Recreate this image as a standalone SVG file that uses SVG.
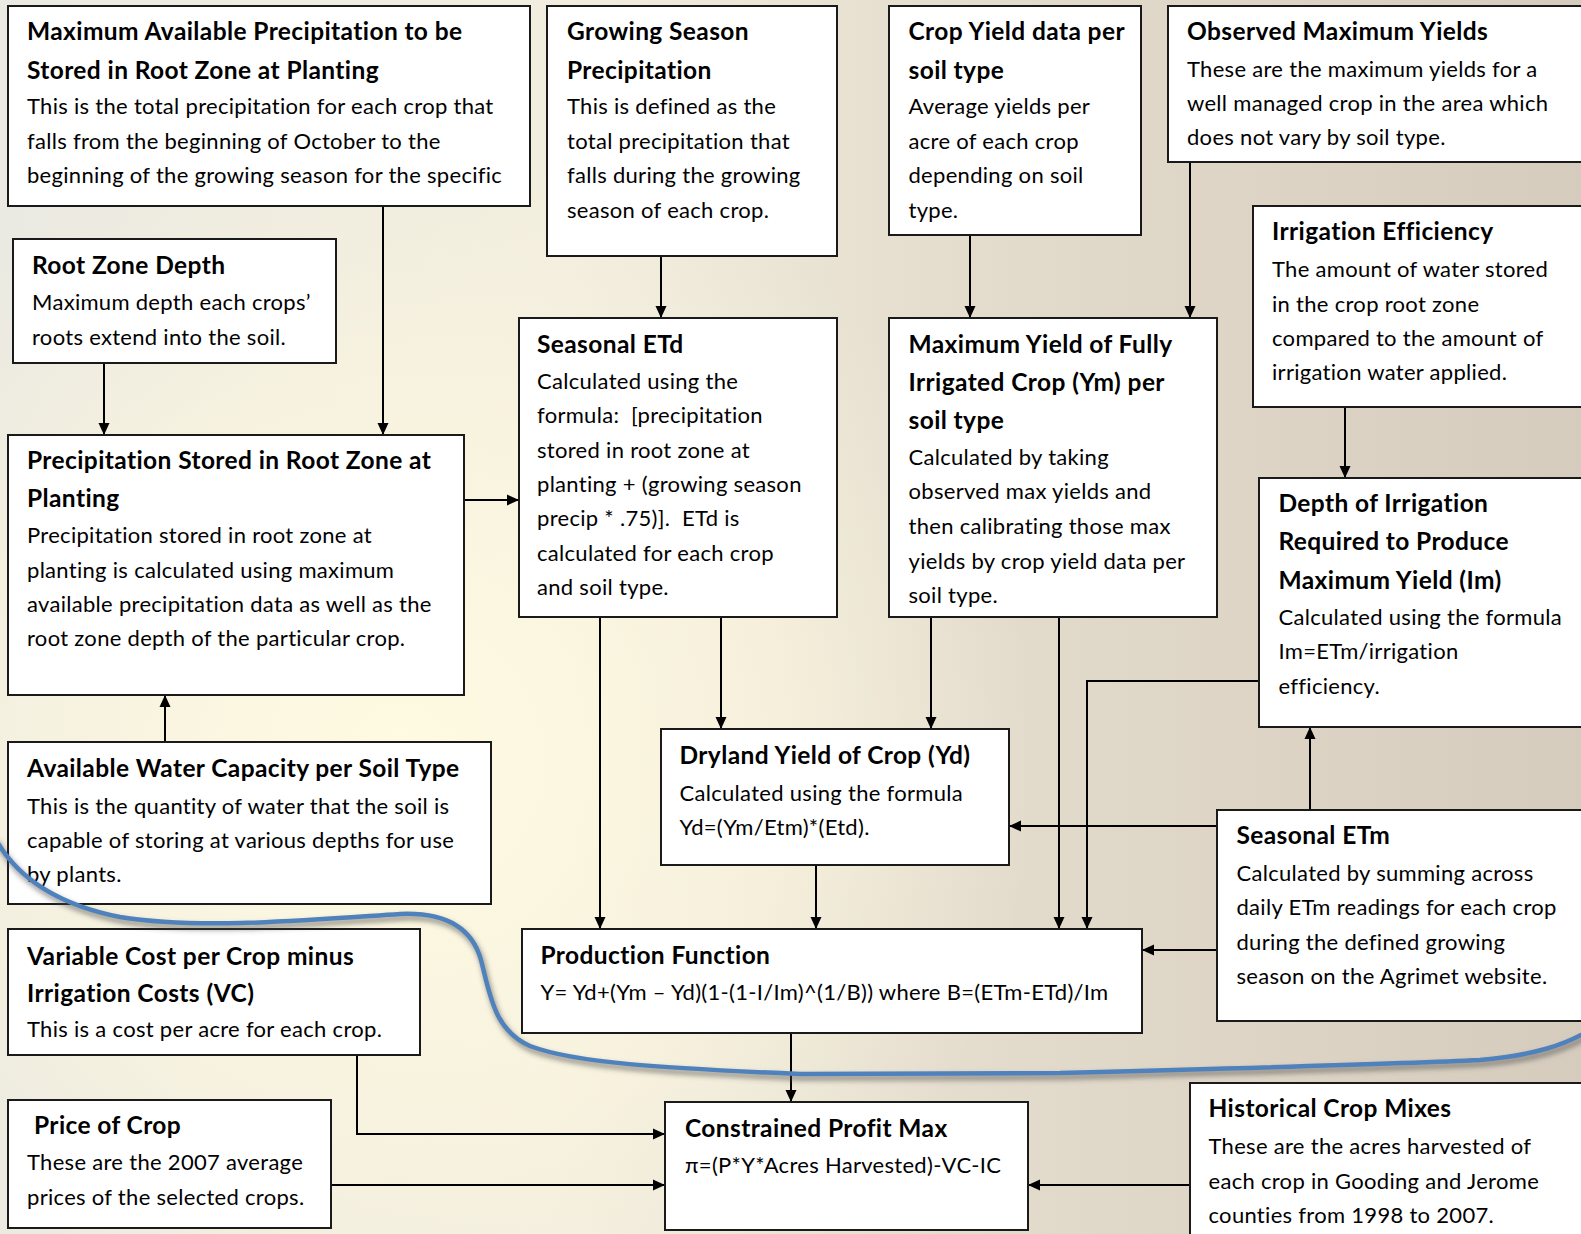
<svg xmlns="http://www.w3.org/2000/svg" width="1581" height="1234" viewBox="0 0 1581 1234">
<defs>
<linearGradient id="bgLin" x1="0" y1="0" x2="1" y2="0">
<stop offset="0" stop-color="#ebeae2"/>
<stop offset="0.35" stop-color="#f2eedf"/>
<stop offset="0.65" stop-color="#e2dacb"/>
<stop offset="1" stop-color="#d6ccbe"/>
</linearGradient>
<radialGradient id="bgGlow" gradientUnits="userSpaceOnUse" cx="400" cy="760" r="640">
<stop offset="0" stop-color="#fffbe2" stop-opacity="1"/>
<stop offset="0.6" stop-color="#fcf6df" stop-opacity="0.6"/>
<stop offset="1" stop-color="#f6f0dc" stop-opacity="0"/>
</radialGradient>
<marker id="ah" markerUnits="userSpaceOnUse" markerWidth="14" markerHeight="14" viewBox="0 0 14 14" refX="13" refY="7" orient="auto">
<path d="M1,1.5 L13,7 L1,12.5 Z" fill="#000"/>
</marker>
<filter id="shadow" x="-5%" y="-50%" width="110%" height="200%">
<feGaussianBlur stdDeviation="2.5"/>
</filter>
<style>
.box{fill:#fff;stroke:#1a1a1a;stroke-width:2}
.t{font-family:Lato,"Open Sans",sans-serif;font-weight:bold;font-size:24.5px;letter-spacing:0.4px;fill:#000;white-space:pre}
.b{font-family:Lato,"Open Sans",sans-serif;font-size:22px;letter-spacing:0.3px;fill:#000;white-space:pre}
.c{fill:none;stroke:#000;stroke-width:2;marker-end:url(#ah)}
</style>
</defs>
<rect x="0" y="0" width="1581" height="1234" fill="url(#bgLin)"/>
<rect x="0" y="0" width="1581" height="1234" fill="url(#bgGlow)"/>

<g id="connectors">
<path class="c" d="M383,206 V435"/>
<path class="c" d="M104,363 V435"/>
<path class="c" d="M464,500 H519"/>
<path class="c" d="M661,256 V318"/>
<path class="c" d="M970,235 V318"/>
<path class="c" d="M1190,162 V318"/>
<path class="c" d="M1345,407 V478"/>
<path class="c" d="M165,742 V695"/>
<path class="c" d="M600,617 V929"/>
<path class="c" d="M721,617 V729"/>
<path class="c" d="M931,617 V729"/>
<path class="c" d="M816,865 V929"/>
<path class="c" d="M1059,617 V929"/>
<path class="c" d="M1259,681 H1087 V929"/>
<path class="c" d="M1217,826 H1009"/>
<path class="c" d="M1310,810 V727"/>
<path class="c" d="M1217,950 H1142"/>
<path class="c" d="M791,1033 V1102"/>
<path class="c" d="M357,1055 V1134 H665"/>
<path class="c" d="M331,1185 H665"/>
<path class="c" d="M1190,1185 H1028"/>
</g>

<g id="n1">
<rect class="box" x="8" y="6" width="522" height="200"/>
<text class="t" x="27" y="40">Maximum Available Precipitation to be</text>
<text class="t" x="27" y="79">Stored in Root Zone at Planting</text>
<text class="b" x="27" y="114">This is the total precipitation for each crop that</text>
<text class="b" x="27" y="148.5">falls from the beginning of October to the</text>
<text class="b" x="27" y="183">beginning of the growing season for the specific</text>
</g>
<g id="n2">
<rect class="box" x="547" y="6" width="290" height="250"/>
<text class="t" x="567" y="40">Growing Season</text>
<text class="t" x="567" y="79">Precipitation</text>
<text class="b" x="567" y="114">This is defined as the</text>
<text class="b" x="567" y="148.5">total precipitation that</text>
<text class="b" x="567" y="183">falls during the growing</text>
<text class="b" x="567" y="217.5">season of each crop.</text>
</g>
<g id="n3">
<rect class="box" x="889" y="6" width="252" height="229"/>
<text class="t" x="908.5" y="40">Crop Yield data per</text>
<text class="t" x="908.5" y="79">soil type</text>
<text class="b" x="908.5" y="114">Average yields per</text>
<text class="b" x="908.5" y="148.5">acre of each crop</text>
<text class="b" x="908.5" y="183">depending on soil</text>
<text class="b" x="908.5" y="217.5">type.</text>
</g>
<g id="n4">
<rect class="box" x="1168" y="6" width="430" height="156"/>
<text class="t" x="1187" y="40">Observed Maximum Yields</text>
<text class="b" x="1187" y="76.5">These are the maximum yields for a</text>
<text class="b" x="1187" y="111">well managed crop in the area which</text>
<text class="b" x="1187" y="145">does not vary by soil type.</text>
</g>
<g id="n5">
<rect class="box" x="1253" y="206" width="345" height="201"/>
<text class="t" x="1272" y="240">Irrigation Efficiency</text>
<text class="b" x="1272" y="277">The amount of water stored</text>
<text class="b" x="1272" y="311.5">in the crop root zone</text>
<text class="b" x="1272" y="346">compared to the amount of</text>
<text class="b" x="1272" y="380">irrigation water applied.</text>
</g>
<g id="n6">
<rect class="box" x="13" y="239" width="323" height="124"/>
<text class="t" x="32" y="274">Root Zone Depth</text>
<text class="b" x="32" y="309.5">Maximum depth each crops’</text>
<text class="b" x="32" y="344.5">roots extend into the soil.</text>
</g>
<g id="n7">
<rect class="box" x="8" y="435" width="456" height="260"/>
<text class="t" x="27" y="469">Precipitation Stored in Root Zone at</text>
<text class="t" x="27" y="507">Planting</text>
<text class="b" x="27" y="543">Precipitation stored in root zone at</text>
<text class="b" x="27" y="577.5">planting is calculated using maximum</text>
<text class="b" x="27" y="612">available precipitation data as well as the</text>
<text class="b" x="27" y="646">root zone depth of the particular crop.</text>
</g>
<g id="n8">
<rect class="box" x="519" y="318" width="318" height="299"/>
<text class="t" x="537" y="353">Seasonal ETd</text>
<text class="b" x="537" y="389">Calculated using the</text>
<text class="b" x="537" y="423">formula:  [precipitation</text>
<text class="b" x="537" y="458">stored in root zone at</text>
<text class="b" x="537" y="492">planting + (growing season</text>
<text class="b" x="537" y="526">precip * .75)].  ETd is</text>
<text class="b" x="537" y="560.5">calculated for each crop</text>
<text class="b" x="537" y="595">and soil type.</text>
</g>
<g id="n9">
<rect class="box" x="889" y="318" width="328" height="299"/>
<text class="t" x="908.5" y="353">Maximum Yield of Fully</text>
<text class="t" x="908.5" y="391">Irrigated Crop (Ym) per</text>
<text class="t" x="908.5" y="429">soil type</text>
<text class="b" x="908.5" y="465">Calculated by taking</text>
<text class="b" x="908.5" y="499">observed max yields and</text>
<text class="b" x="908.5" y="533.5">then calibrating those max</text>
<text class="b" x="908.5" y="568.5">yields by crop yield data per</text>
<text class="b" x="908.5" y="603">soil type.</text>
</g>
<g id="n10">
<rect class="box" x="1259" y="478" width="339" height="249"/>
<text class="t" x="1278.5" y="512">Depth of Irrigation</text>
<text class="t" x="1278.5" y="550">Required to Produce</text>
<text class="t" x="1278.5" y="589">Maximum Yield (Im)</text>
<text class="b" x="1278.5" y="625">Calculated using the formula</text>
<text class="b" x="1278.5" y="659">Im=ETm/irrigation</text>
<text class="b" x="1278.5" y="694">efficiency.</text>
</g>
<g id="n11">
<rect class="box" x="661" y="729" width="348" height="136"/>
<text class="t" x="679.5" y="764">Dryland Yield of Crop (Yd)</text>
<text class="b" x="679.5" y="800.5">Calculated using the formula</text>
<text class="b" x="679.5" y="834.5">Yd=(Ym/Etm)*(Etd).</text>
</g>
<g id="n12">
<rect class="box" x="522" y="929" width="620" height="104"/>
<text class="t" x="540.5" y="964">Production Function</text>
<text class="b" x="540.5" y="1000">Y= Yd+(Ym – Yd)(1-(1-I/Im)^(1/B)) where B=(ETm-ETd)/Im</text>
</g>
<g id="n13">
<rect class="box" x="1217" y="810" width="381" height="211"/>
<text class="t" x="1236.5" y="844">Seasonal ETm</text>
<text class="b" x="1236.5" y="881">Calculated by summing across</text>
<text class="b" x="1236.5" y="915">daily ETm readings for each crop</text>
<text class="b" x="1236.5" y="950">during the defined growing</text>
<text class="b" x="1236.5" y="984">season on the Agrimet website.</text>
</g>
<g id="n14">
<rect class="box" x="8" y="742" width="483" height="162"/>
<text class="t" x="27" y="777">Available Water Capacity per Soil Type</text>
<text class="b" x="27" y="813.5">This is the quantity of water that the soil is</text>
<text class="b" x="27" y="848">capable of storing at various depths for use</text>
<text class="b" x="27" y="882">by plants.</text>
</g>
<g id="n15">
<rect class="box" x="8" y="929" width="412" height="126"/>
<text class="t" x="27" y="965">Variable Cost per Crop minus</text>
<text class="t" x="27" y="1002">Irrigation Costs (VC)</text>
<text class="b" x="27" y="1037">This is a cost per acre for each crop.</text>
</g>
<g id="n16">
<rect class="box" x="8" y="1100" width="323" height="128"/>
<text class="t" x="34" y="1134">Price of Crop</text>
<text class="b" x="27" y="1170">These are the 2007 average</text>
<text class="b" x="27" y="1205">prices of the selected crops.</text>
</g>
<g id="n17">
<rect class="box" x="665" y="1102" width="363" height="128"/>
<text class="t" x="685" y="1137">Constrained Profit Max</text>
<text class="b" x="685" y="1172.5">π=(P*Y*Acres Harvested)-VC-IC</text>
</g>
<g id="n18">
<rect class="box" x="1190" y="1083" width="408" height="170"/>
<text class="t" x="1208.5" y="1117">Historical Crop Mixes</text>
<text class="b" x="1208.5" y="1154">These are the acres harvested of</text>
<text class="b" x="1208.5" y="1188.5">each crop in Gooding and Jerome</text>
<text class="b" x="1208.5" y="1223">counties from 1998 to 2007.</text>
</g>

<g id="divider">
<path d="M-5,838 C18,880 60,905 120,917 C200,930 310,920 400,914 C445,912 472,928 481,960 C490,995 494,1030 530,1046 C575,1063 660,1068 800,1074 L1060,1073 C1250,1068 1400,1064 1480,1060 C1535,1055 1565,1045 1590,1030" fill="none" stroke="#4a4a4a" stroke-opacity="0.5" stroke-width="6" filter="url(#shadow)" transform="translate(2,4)"/>
<path d="M-5,838 C18,880 60,905 120,917 C200,930 310,920 400,914 C445,912 472,928 481,960 C490,995 494,1030 530,1046 C575,1063 660,1068 800,1074 L1060,1073 C1250,1068 1400,1064 1480,1060 C1535,1055 1565,1045 1590,1030" fill="none" stroke="#4f81bd" stroke-width="4.5"/>
</g>
</svg>
